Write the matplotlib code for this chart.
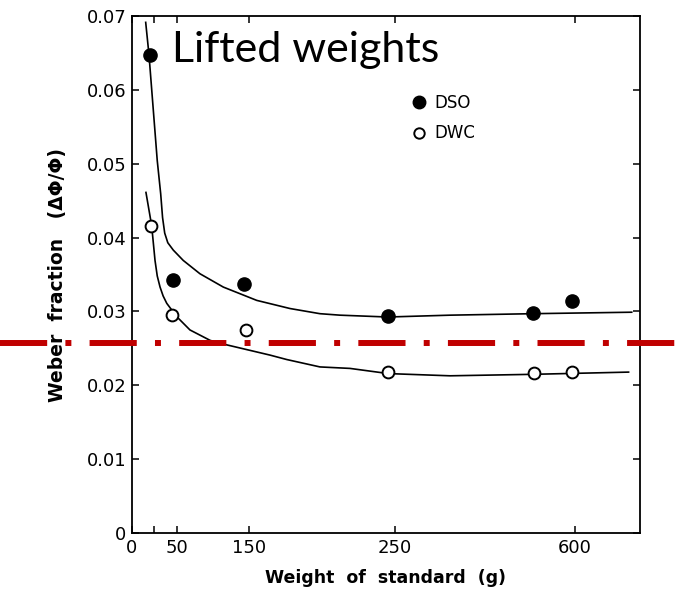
import numpy as np
import matplotlib
matplotlib.use('Agg')
import matplotlib.pyplot as plt
import matplotlib.transforms as mtransforms
from matplotlib.lines import Line2D

dso_weight = [20, 45, 143, 245, 519, 594]
dso_frac = [0.0647, 0.0342, 0.0337, 0.0294, 0.0298, 0.0314]
dwc_weight = [22, 44, 145, 245, 520, 595]
dwc_frac = [0.0416, 0.0295, 0.0275, 0.0218, 0.0217, 0.0218]

# Hand-drawn fit curves
dso_curve_w = [15.7, 19.4, 28.5, 32.2, 34.2, 36.5, 39.8, 45.7, 58.3, 81.5, 113.9,
               155.1, 177.9, 198.5, 212.2, 245, 357, 518, 709]
dso_curve_v = [0.0691, 0.0647, 0.0504, 0.0459, 0.0427, 0.0406, 0.0393, 0.0383,
               0.0369, 0.0351, 0.0333, 0.0315, 0.0304, 0.0297, 0.0295, 0.02925,
               0.0295, 0.0297, 0.0299]
dwc_curve_w = [16.0, 22.4, 26.1, 28.5, 31.5, 34.8, 38.7, 49.4, 67.6, 95.4, 109.3,
               164.2, 175.7, 198.5, 219.1, 245.4, 357, 518, 703]
dwc_curve_v = [0.0461, 0.0416, 0.0369, 0.0348, 0.0333, 0.0321, 0.0311, 0.0293,
               0.0275, 0.0261, 0.0257, 0.0241, 0.0235, 0.0225, 0.0223, 0.0216,
               0.0213, 0.0215, 0.0218]

ref_level = 0.0257

x_ticks = [0, 25, 50, 150, 250, 600]
x_tick_labels = ['0', '', '50', '150', '250', '600']
y_ticks = [0, 0.01, 0.02, 0.03, 0.04, 0.05, 0.06, 0.07]
y_tick_labels = ['0', '0.01', '0.02', '0.03', '0.04', '0.05', '0.06', '0.07']

# the original x axis is not linear, so use a piecewise scale
scale_w = [0, 25, 50, 150, 250, 600, 725]
scale_pos = [0, 22.3, 45.6, 117.6, 263.3, 443.3, 508.3]


def fwd(x):
    return np.interp(x, scale_w, scale_pos)


def inv(x):
    return np.interp(x, scale_pos, scale_w)


fig = plt.figure(figsize=(6.92, 5.97), dpi=100)
ax = fig.add_axes([0.1903, 0.1067, 0.7346, 0.867])
ax.set_xscale('function', functions=(fwd, inv))
ax.set_xlim(0, 725)
ax.set_ylim(0, 0.07)

ax.plot(dso_curve_w, dso_curve_v, color='black', lw=1.2, solid_joinstyle='round')
ax.plot(dwc_curve_w, dwc_curve_v, color='black', lw=1.2, solid_joinstyle='round')
ax.plot(dso_weight, dso_frac, 'o', ms=9.5, color='black', zorder=3)
ax.plot(dwc_weight, dwc_frac, 'o', ms=8.5, mfc='white', mec='black', mew=1.4, zorder=3)

ax.set_xticks(x_ticks)
ax.set_xticklabels(x_tick_labels)
ax.set_yticks(y_ticks)
ax.set_yticklabels(y_tick_labels)
ax.tick_params(direction='in', length=5, width=1.1, labelsize=13,
               top=True, right=True, pad=4)
for sp in ax.spines.values():
    sp.set_linewidth(1.3)

ax.set_xlabel('Weight  of  standard  (g)', fontsize=12.5, fontweight='bold', labelpad=9)
ax.set_ylabel('Weber  fraction   (\u0394\u03a6/\u03a6)', fontsize=13.5, fontweight='bold',
              labelpad=14)

# legend
handles = [Line2D([], [], ls='none', marker='o', ms=9, color='black'),
           Line2D([], [], ls='none', marker='o', ms=7.5, mfc='white', mec='black', mew=1.4)]
ax.legend(handles, ['DSO', 'DWC'], loc='upper left', bbox_to_anchor=(0.523, 0.878),
          frameon=False, fontsize=12, handlelength=0.8, handletextpad=0.5,
          labelspacing=0.75)

ax.text(0.079, 0.911, 'Lifted weights', transform=ax.transAxes, fontsize=31,
        family='Lato', va='baseline', ha='left')

# red dash-dot reference line across the whole figure
trans = mtransforms.blended_transform_factory(fig.transFigure, ax.transData)
ax.plot([0, 1], [ref_level, ref_level], transform=trans, color='#C00000', lw=4.3,
        ls=(0, (7.9, 3.05, 1.0, 3.05)), clip_on=False, zorder=4)

fig.savefig('out.png', dpi=100)
